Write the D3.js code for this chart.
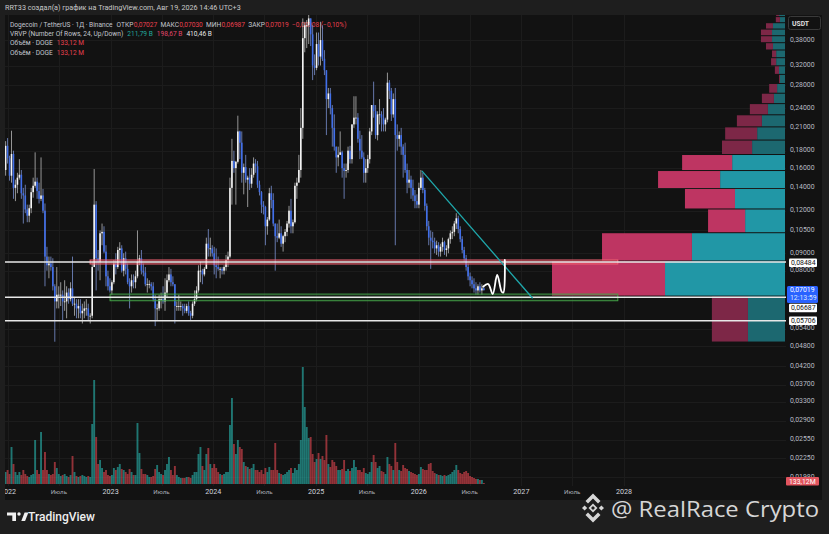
<!DOCTYPE html>
<html><head><meta charset="utf-8">
<script src="https://cdn.jsdelivr.net/npm/d3@7/dist/d3.min.js"></script>
<style>html,body{margin:0;padding:0;background:#1e1e1e;overflow:hidden}svg{display:block}</style>
</head><body>
<svg id="c" width="829" height="534"></svg>
<script>
// ---------------- DATA ----------------
// Weekly DOGE/USDT candles (week starting Monday), from 2021-12-20 to 2026-08-17
const firstWeek = "2021-12-20";
const firstOpen = 0.158;
const weekHigh = [
 0.192,0.196,
 // 2022
 0.174,0.206,0.180,0.148,0.155, 0.170,0.158,0.140,0.143, 0.125,0.125,0.140,0.150, 0.178,0.150,0.145,0.172,
 0.139,0.126,0.094,0.088,0.088, 0.087,0.073,0.082,0.072, 0.074,0.070,0.075,0.072, 0.071,0.074,0.088,0.067,0.066,
 0.066,0.066,0.064,0.065, 0.066,0.064,0.060,0.085,0.159, 0.128,0.092,0.105,0.110, 0.108,0.095,0.080,0.076,
 // 2023
 0.075,0.086,0.090,0.094,0.097, 0.095,0.090,0.091,0.084, 0.076,0.078,0.078,0.080, 0.105,0.089,0.092,0.084,
 0.082,0.076,0.075,0.074,0.074, 0.068,0.064,0.068,0.069, 0.072,0.076,0.078,0.082,0.081, 0.077,0.073,0.065,0.068,
 0.065,0.064,0.064,0.064, 0.065,0.061,0.065,0.070,0.072, 0.083,0.085,0.081,0.082, 0.100,0.106,0.100,0.095,
 // 2024
 0.094,0.093,0.088,0.082,0.082, 0.083,0.089,0.091,0.150, 0.195,0.180,0.168,0.228, 0.206,0.205,0.165,0.175,0.152,
 0.160,0.160,0.172,0.170, 0.168,0.147,0.137,0.128, 0.124,0.115,0.140,0.142,0.135, 0.110,0.110,0.113,0.108,
 0.102,0.106,0.112,0.124,0.130, 0.113,0.145,0.150,0.175, 0.240,0.440,0.430,0.435, 0.484,0.440,0.420,0.345,0.400,
 // 2025
 0.400,0.430,0.420,0.355, 0.310,0.275,0.275,0.245, 0.230,0.185,0.185,0.205,0.180, 0.165,0.165,0.185,0.186,
 0.215,0.260,0.260,0.232, 0.206,0.200,0.178,0.170,0.175, 0.210,0.245,0.287,0.245, 0.235,0.255,0.235,0.240,
 0.225,0.305,0.290,0.275,0.265, 0.275,0.215,0.205,0.210, 0.188,0.190,0.165,0.158, 0.152,0.148,0.138,0.134,0.145,
 // 2026
 0.158,0.155,0.140,0.126, 0.112,0.105,0.104,0.100, 0.098,0.097,0.096,0.100,0.098, 0.095,0.100,0.105,0.108,
 0.112,0.118,0.116,0.108, 0.101,0.094,0.089,0.084,0.079, 0.077,0.076,0.074,0.073, 0.074,0.073,0.0725
];
const weekLow = [
 0.152,0.165,
 // 2022
 0.147,0.145,0.130,0.128,0.135, 0.148,0.130,0.110,0.118, 0.111,0.111,0.118,0.131, 0.140,0.130,0.126,0.128,
 0.118,0.072,0.080,0.076,0.080, 0.070,0.0495,0.062,0.062, 0.063,0.057,0.061,0.058, 0.064,0.065,0.063,0.059,0.058,
 0.058,0.058,0.056,0.058, 0.059,0.057,0.056,0.058,0.085, 0.070,0.080,0.075,0.095, 0.090,0.072,0.070,0.069,
 // 2023
 0.068,0.073,0.078,0.081,0.085, 0.079,0.077,0.078,0.073, 0.062,0.069,0.071,0.071, 0.076,0.083,0.078,0.077,
 0.072,0.069,0.071,0.070,0.065, 0.055,0.057,0.061,0.062, 0.064,0.061,0.067,0.074,0.072, 0.072,0.056,0.061,0.061,
 0.061,0.059,0.060,0.060, 0.059,0.057,0.058,0.063,0.065, 0.069,0.074,0.073,0.077, 0.081,0.088,0.088,0.088,
 // 2024
 0.078,0.076,0.080,0.076,0.078, 0.078,0.080,0.082,0.087, 0.125,0.155,0.125,0.165, 0.170,0.145,0.134,0.145,0.123,
 0.138,0.140,0.150,0.155, 0.140,0.133,0.118,0.117, 0.095,0.102,0.112,0.122,0.108, 0.080,0.097,0.099,0.094,
 0.091,0.097,0.101,0.107,0.103, 0.103,0.110,0.130,0.150, 0.150,0.195,0.350,0.360, 0.370,0.365,0.290,0.300,0.310,
 // 2025
 0.320,0.320,0.330,0.300, 0.200,0.240,0.230,0.185, 0.180,0.155,0.162,0.175,0.150, 0.130,0.150,0.155,0.165,
 0.165,0.210,0.215,0.190, 0.170,0.170,0.145,0.145,0.155, 0.165,0.200,0.225,0.195, 0.193,0.215,0.205,0.205,
 0.205,0.218,0.255,0.220,0.225, 0.095,0.180,0.185,0.175, 0.150,0.155,0.135,0.140, 0.130,0.128,0.122,0.122,0.122,
 // 2026
 0.138,0.135,0.120,0.105, 0.095,0.081,0.093,0.090, 0.089,0.088,0.088,0.091,0.089, 0.088,0.090,0.096,0.099,
 0.101,0.106,0.103,0.097, 0.090,0.085,0.080,0.075,0.072, 0.071,0.069,0.068,0.068, 0.069,0.068,0.0699
];
const weekClose = [
 0.186,0.171,
 // 2022
 0.152,0.176,0.140,0.143,0.150, 0.153,0.135,0.133,0.121, 0.116,0.122,0.136,0.142, 0.146,0.137,0.130,0.133,
 0.120,0.088,0.083,0.084,0.082, 0.072,0.065,0.068,0.068, 0.068,0.065,0.065,0.069, 0.066,0.071,0.064,0.064,0.062,
 0.063,0.060,0.061,0.062, 0.062,0.059,0.059,0.082,0.125, 0.087,0.085,0.103,0.104, 0.091,0.077,0.072,0.070,
 // 2023
 0.074,0.084,0.082,0.092,0.093, 0.080,0.087,0.081,0.074, 0.072,0.075,0.074,0.077, 0.085,0.087,0.080,0.079,
 0.073,0.073,0.073,0.072,0.066, 0.062,0.062,0.066,0.066, 0.065,0.069,0.075,0.078,0.074, 0.073,0.063,0.063,0.063,
 0.063,0.062,0.061,0.063, 0.060,0.059,0.064,0.066,0.070, 0.080,0.080,0.078,0.081, 0.096,0.093,0.093,0.090,
 // 2024
 0.083,0.082,0.081,0.081,0.080, 0.082,0.086,0.088,0.140, 0.168,0.160,0.167,0.205, 0.190,0.155,0.161,0.148,0.150,
 0.144,0.153,0.165,0.162, 0.143,0.136,0.125,0.123, 0.108,0.113,0.135,0.129,0.110, 0.101,0.100,0.103,0.096,
 0.101,0.104,0.110,0.120,0.108, 0.111,0.142,0.145,0.158, 0.210,0.385,0.420,0.420, 0.440,0.395,0.320,0.315,0.370,
 // 2025
 0.340,0.380,0.335,0.310, 0.255,0.265,0.240,0.210, 0.185,0.172,0.175,0.178,0.160, 0.157,0.158,0.180,0.170,
 0.215,0.225,0.225,0.195, 0.180,0.172,0.155,0.160,0.170, 0.205,0.245,0.235,0.200, 0.230,0.230,0.225,0.215,
 0.222,0.285,0.270,0.230,0.255, 0.200,0.195,0.200,0.185, 0.175,0.158,0.145,0.148, 0.140,0.133,0.128,0.125,0.140,
 // 2026
 0.150,0.138,0.124,0.108, 0.100,0.098,0.097,0.093, 0.095,0.091,0.094,0.097,0.092, 0.093,0.099,0.103,0.104,
 0.110,0.114,0.106,0.099, 0.092,0.087,0.082,0.077,0.075, 0.073,0.071,0.070,0.072, 0.070,0.071,0.07019
];
// weekly volume (hundreds of millions DOGE)
const weekVolume = [
 12,14,
 10,37,20,12,9, 12,9,14,10, 8,7,9,10, 44,14,10,52, 14,32,14,10,9, 10,22,16,10, 8,9,10,8, 7,9,28,12,8,
 7,8,9,8, 7,8,7,60,104, 47,20,24,16, 12,14,9,8,
 9,16,14,17,20, 15,14,12,10, 15,12,9,9, 61,31,15,10, 10,9,7,7,8, 15,19,12,10, 9,14,20,27,14, 9,18,9,7,
 6,6,6,7, 7,6,9,12,12, 30,37,18,14, 30,36,20,16,
 20,16,12,10,9, 10,12,12,59, 86,40,30,44, 37,35,22,18,17, 15,16,20,14, 14,12,14,10, 16,12,17,14,14, 41,14,11,10,
 9,10,12,14,16, 11,16,14,20, 44,117,77,57, 46,47,30,22,25,
 31,25,28,24, 49,20,17,24, 22,18,14,14,15, 24,13,15,13, 16,24,17,14, 14,12,16,11,10, 12,22,29,22, 16,18,13,12,
 10,27,20,18,14, 41,22,14,13, 19,16,15,13, 12,11,10,9,10,
 17,15,14,14, 20,21,13,11, 10,9,9,8,9, 8,9,10,12, 14,19,14,11, 10,12,13,11,8, 7,6,5,5, 4,4,1
];

const priceTicks = [0.38,0.32,0.28,0.24,0.21,0.18,0.16,0.14,0.12,0.105,0.09,0.08,0.054,0.048,0.042,0.037,0.033,0.029,0.0255,0.0225,0.0198];
const timeTickDates = ["2022-01-01","2022-07-01","2023-01-01","2023-07-01","2024-01-01","2024-07-01","2025-01-01","2025-07-01","2026-01-01","2026-07-01","2027-01-01","2027-07-01","2028-01-01"];
const timeTickLabels = ["2022","Июль","2023","Июль","2024","Июль","2025","Июль","2026","Июль","2027","Июль","2028"];

// Visible-range volume profile: 24 rows (price bounds), up / down volume in billions
const vpBounds = [0.0494,0.0674,0.0854,0.1034,0.1214,0.1394,0.1574,0.1754,0.1934,0.2114,0.2294,0.2474,0.2654,0.2834,0.3014,0.3194,0.3374,0.3554,0.3734,0.3914,0.4094,0.4274,0.4454,0.4634,0.4814];
const vpUp   = [11.7,37.9,29.4,12.6,15.8,20.5,16.7,10.4,8.8,7.3,5.4,3.5,2.5,1.6,1.9,2.8,2.8,3.8,4.1,4.1,3.8,1.6,1.9,0.6];
const vpDown = [11.4,35.7,28.4,11.7,15.8,19.6,15.8,9.5,10.1,7.9,5.7,3.8,2.5,0.3,1.3,1.6,1.3,2.2,3.5,3.5,2.2,1.3,0.9,0.3];
const valueArea = [0.0674,0.1754];

// Drawings
const levelPrices = [0.08484,0.06687,0.05706];
const redZoneDates = ["2022-10-20","2027-12-10"], redZonePrices = [0.0837,0.0860];
const greenZoneDates = ["2022-12-30","2027-12-10"], greenZonePrices = [0.0653,0.0683];
const trendDates = ["2026-01-12","2027-02-10"], trendPrices = [0.157,0.0664];
const pathDates = ["2026-08-18","2026-09-05","2026-09-21","2026-10-07","2026-10-23","2026-10-29","2026-11-03"];
const pathPrices = [0.0718,0.0731,0.0683,0.0777,0.0694,0.0690,0.0860];
const lastPrice = 0.07019, lastVolumeLabel = "133,12M";

// legend texts
const legendLine1 = [["Dogecoin / TetherUS · 1Д · Binance","l",0],["ОТКР","l",4],["0,07027","r",0.3],["МАКС","l",3.2],["0,07030","r",0.3],
  ["МИН","l",3.2],["0,06987","r",0.3],["ЗАКР","l",3.2],["0,07019","r",0.3],["−0,00008 (−0,10%)","r",3.2]];
const legendLine2 = [["VRVP (Number Of Rows, 24, Up/Down)","l",0],["211,79 B","t",4],["198,67 B","p",4],["410,46 B","w",4]];
const legendLine3 = [["Объём · DOGE","l",0],["133,12 M","r",4]];

// ---------------- CHART ----------------
const svg = d3.select("#c");
const F = "Roboto, 'Liberation Sans', sans-serif";
const L = 5, R = 786, T = 15, B = 486, AR = 822, FB = 500;
const pu = s => new Date(s + "T00:00:00Z");

svg.append("rect").attr("width",829).attr("height",534).attr("fill","#1e1e1e");
svg.append("rect").attr("x",L).attr("y",T).attr("width",AR-L).attr("height",FB-T).attr("fill","#121212");

const x = d3.scaleUtc().domain([pu("2022-01-01"), pu("2028-01-01")]).range([8, 624]);
const y = d3.scaleLog().domain([0.05706, 0.38]).range([320.7, 40.1]);
const vMax = d3.max(weekVolume);
const vy = d3.scaleLinear().domain([0, vMax]).range([484, 367]);

const defs = svg.append("defs");
defs.append("clipPath").attr("id","pane").append("rect").attr("x",L).attr("y",T).attr("width",R-L).attr("height",B-T);
defs.append("clipPath").attr("id","frame").append("rect").attr("x",L).attr("y",0).attr("width",AR-L).attr("height",534);

// grid
const grid = svg.append("g").attr("clip-path","url(#pane)").attr("stroke","#1c1c1c").attr("stroke-width",1);
priceTicks.forEach(p => grid.append("line").attr("x1",L).attr("x2",R).attr("y1",Math.round(y(p))+0.5).attr("y2",Math.round(y(p))+0.5));
timeTickDates.forEach(d => grid.append("line").attr("y1",T).attr("y2",B).attr("x1",Math.round(x(pu(d)))+0.5).attr("x2",Math.round(x(pu(d)))+0.5));

// header bar
svg.append("text").attr("x",5).attr("y",10).attr("font-family",F).attr("font-size",7.2)
  .attr("fill","#c9c9c9").text("RRT33 создал(а) график на TradingView.com, Авг 19, 2026 14:46 UTC+3");

// legend (pieces chained by measured width)
const lg = svg.append("g").attr("font-family",F).attr("font-size",6.6);
const legCol = {l:"#c3c6ce", r:"#e8404f", t:"#22a99c", p:"#e0456a", w:"#e6e6e6"};
function leg(yy, parts){
  let cx = 10;
  parts.forEach(([t,c,gap]) => {
    cx += gap;
    const el = lg.append("text").attr("x",cx).attr("y",yy).attr("fill",legCol[c]).text(t);
    cx += el.node().getComputedTextLength();
  });
}
leg(26.5, legendLine1);
leg(35.8, legendLine2);
leg(45.2, legendLine3);
leg(54.8, legendLine3);

// weekly candle records
const start = pu(firstWeek);
const weeks = weekClose.map((c,i) => ({
  t: new Date(start.getTime() + (7*i + 3.5) * 864e5),
  o: i === 0 ? firstOpen : weekClose[i-1], h: weekHigh[i], l: weekLow[i], c, v: weekVolume[i]
}));

const pane = svg.append("g").attr("clip-path","url(#pane)");

// volume
pane.append("g").selectAll("rect").data(weeks).join("rect")
  .attr("x", d => x(d.t) - 0.95).attr("width", 1.9)
  .attr("y", d => vy(d.v)).attr("height", d => vy(0) - vy(d.v))
  .attr("fill", d => d.c >= d.o ? "rgba(38,166,160,0.68)" : "rgba(232,72,82,0.6)");

// volume profile
const vpTot = vpUp.map((u,i) => u + vpDown[i]);
const vw = d3.scaleLinear().domain([0, d3.max(vpTot)]).range([0, 233]);
const vp = pane.append("g");
vpUp.forEach((u,i) => {
  const lo = vpBounds[i], hi = vpBounds[i+1];
  const inVA = lo >= valueArea[0] - 1e-9 && hi <= valueArea[1] + 1e-9;
  const y0 = y(hi) + 0.5, h = y(lo) - y(hi) - 1;
  const wu = vw(u), wd = vw(vpDown[i]);
  vp.append("rect").attr("x", 785 - wu).attr("width", wu).attr("y", y0).attr("height", h).attr("fill", inVA ? "#2197a6" : "#1c6870");
  vp.append("rect").attr("x", 785 - wu - wd).attr("width", wd).attr("y", y0).attr("height", h).attr("fill", inVA ? "#be3562" : "#7d2747");
});

// candles
const cg = pane.append("g");
cg.selectAll("line").data(weeks).join("line")
  .attr("x1", d => x(d.t)).attr("x2", d => x(d.t))
  .attr("y1", d => y(d.h)).attr("y2", d => y(d.l))
  .attr("stroke", d => d.c >= d.o ? "#cfcfcf" : "#8aa4ec").attr("stroke-width", 0.7);
cg.selectAll("rect").data(weeks).join("rect")
  .attr("x", d => x(d.t) - 0.8).attr("width", 1.6)
  .attr("y", d => y(Math.max(d.o, d.c)))
  .attr("height", d => Math.max(0.8, Math.abs(y(d.o) - y(d.c))))
  .attr("fill", d => d.c >= d.o ? "#f4f4f4" : "#416fea");

// zones
function zone(dates, prices, stroke, fill){
  pane.append("rect").attr("x", x(pu(dates[0]))).attr("width", x(pu(dates[1])) - x(pu(dates[0])))
    .attr("y", y(prices[1])).attr("height", y(prices[0]) - y(prices[1]))
    .attr("fill", fill).attr("stroke", stroke).attr("stroke-width", 1);
}
zone(redZoneDates, redZonePrices, "#f06272", "rgba(242,54,69,0.25)");
zone(greenZoneDates, greenZonePrices, "#43a047", "rgba(67,160,71,0.15)");

// horizontal levels
levelPrices.forEach(p => pane.append("line").attr("x1", L).attr("x2", R).attr("y1", y(p)).attr("y2", y(p))
  .attr("stroke", "#e8e8e8").attr("stroke-width", 1.4));

// trend line
pane.append("line").attr("x1", x(pu(trendDates[0]))).attr("y1", y(trendPrices[0]))
  .attr("x2", x(pu(trendDates[1]))).attr("y2", y(trendPrices[1]))
  .attr("stroke", "#1fa9ad").attr("stroke-width", 1.3);

// projected path
const pts = pathDates.map((d,i) => [x(pu(d)), y(pathPrices[i])]);
pane.append("path").attr("d", d3.line().curve(d3.curveCatmullRom.alpha(0.5))(pts))
  .attr("fill","none").attr("stroke","#ffffff").attr("stroke-width",1.8).attr("stroke-linecap","round");

// price axis labels
const ax = svg.append("g").attr("font-family", F).attr("font-size", 6.9).attr("fill", "#b8bbc2");
const fmt = v => d3.format(".5f")(v).replace(".", ",");
priceTicks.forEach(p => ax.append("text").attr("x", 790).attr("y", y(p) + 1.6).text(fmt(p)));

// USDT box
svg.append("rect").attr("x",788.5).attr("y",16.5).attr("width",32).attr("height",13).attr("rx",2)
  .attr("fill","#121212").attr("stroke","#3a3a3a");
svg.append("text").attr("x",792).attr("y",25.5).attr("font-family",F).attr("font-size",6.8).attr("font-weight","bold").attr("fill","#e0e0e0").text("USDT");

// level labels
function tag(cy, txt, bg, fg, w){
  svg.append("rect").attr("x",789).attr("y",cy-4.3).attr("width",w||28).attr("height",8.6).attr("rx",1).attr("fill",bg);
  svg.append("text").attr("x",791).attr("y",cy+2.3).attr("font-family",F).attr("font-size",6.9).attr("fill",fg).text(txt);
}
tag(y(levelPrices[0]) + 0.8, fmt(levelPrices[0]), "#ffffff", "#111");
tag(308, fmt(levelPrices[1]), "#ffffff", "#111");
tag(y(levelPrices[2]), fmt(levelPrices[2]), "#ffffff", "#111");
// last price
const lpy = y(lastPrice);
svg.append("rect").attr("x",787).attr("y",lpy-4).attr("width",31).attr("height",17).attr("rx",1.5).attr("fill","#2962ff");
svg.append("text").attr("x",790).attr("y",lpy+2.4).attr("font-family",F).attr("font-size",6.9).attr("fill","#ffffff").text(fmt(lastPrice));
svg.append("text").attr("x",790).attr("y",lpy+10.4).attr("font-family",F).attr("font-size",6.9).attr("fill","#dfe6ff").text("12:13:59");
// volume label
svg.append("rect").attr("x",786).attr("y",477).attr("width",33).attr("height",8.6).attr("rx",1).attr("fill","#e2545e");
svg.append("text").attr("x",789).attr("y",483.5).attr("font-family",F).attr("font-size",6.9).attr("fill","#ffffff").text(lastVolumeLabel);

// time axis
const ta = svg.append("g").attr("clip-path","url(#frame)").attr("font-family",F).attr("text-anchor","middle");
timeTickDates.forEach((d,i) => {
  const yr = timeTickLabels[i] !== "Июль";
  ta.append("text").attr("x", x(pu(d))).attr("y", 494)
    .attr("font-size", yr ? 7.2 : 6.2).attr("fill", yr ? "#d1d4dc" : "#a9acb4").text(timeTickLabels[i]);
});

// TradingView logo
const tv = svg.append("g").attr("fill","#f0f0f0");
tv.append("path").attr("d","M7,512.5 H16 V521 H12.3 V515.6 H7 Z");
tv.append("circle").attr("cx",19).attr("cy",514).attr("r",1.7);
tv.append("path").attr("d","M21.3,521 L24.6,512.5 H28.4 L25.1,521 Z");
svg.append("text").attr("x",28).attr("y",521).attr("font-family",F).attr("font-size",12.5).attr("font-weight",500)
  .attr("fill","#eeeeee").attr("textLength",67).attr("lengthAdjust","spacingAndGlyphs").text("TradingView");

// watermark
const wm = svg.append("g").attr("fill","#d6d6d6");
const cx0 = 593, cy0 = 508;
wm.append("path").attr("d",`M${cx0},${cy0-4.5} L${cx0+4.5},${cy0} L${cx0},${cy0+4.5} L${cx0-4.5},${cy0} Z M${cx0},${cy0-2} L${cx0-2},${cy0} L${cx0},${cy0+2} L${cx0+2},${cy0} Z`).attr("fill-rule","evenodd");
wm.append("path").attr("d",`M${cx0-11},${cy0} l2.6,-2.6 l2.6,2.6 l-2.6,2.6 Z M${cx0+11},${cy0} l-2.6,-2.6 l-2.6,2.6 l2.6,2.6 Z`);
wm.append("path").attr("d",`M${cx0-7.5},${cy0-7} L${cx0},${cy0-14.5} L${cx0+7.5},${cy0-7} L${cx0+5},${cy0-4.5} L${cx0},${cy0-9.5} L${cx0-5},${cy0-4.5} Z`);
wm.append("path").attr("d",`M${cx0-7.5},${cy0+7} L${cx0},${cy0+14.5} L${cx0+7.5},${cy0+7} L${cx0+5},${cy0+4.5} L${cx0},${cy0+9.5} L${cx0-5},${cy0+4.5} Z`);
svg.append("text").attr("x",611).attr("y",517).attr("font-family","'Open Sans', 'Noto Sans', sans-serif").attr("font-size",22.5)
  .attr("fill","#d6d6d6").attr("textLength",208).attr("lengthAdjust","spacingAndGlyphs").text("@ RealRace Crypto");
</script>
</body></html>
